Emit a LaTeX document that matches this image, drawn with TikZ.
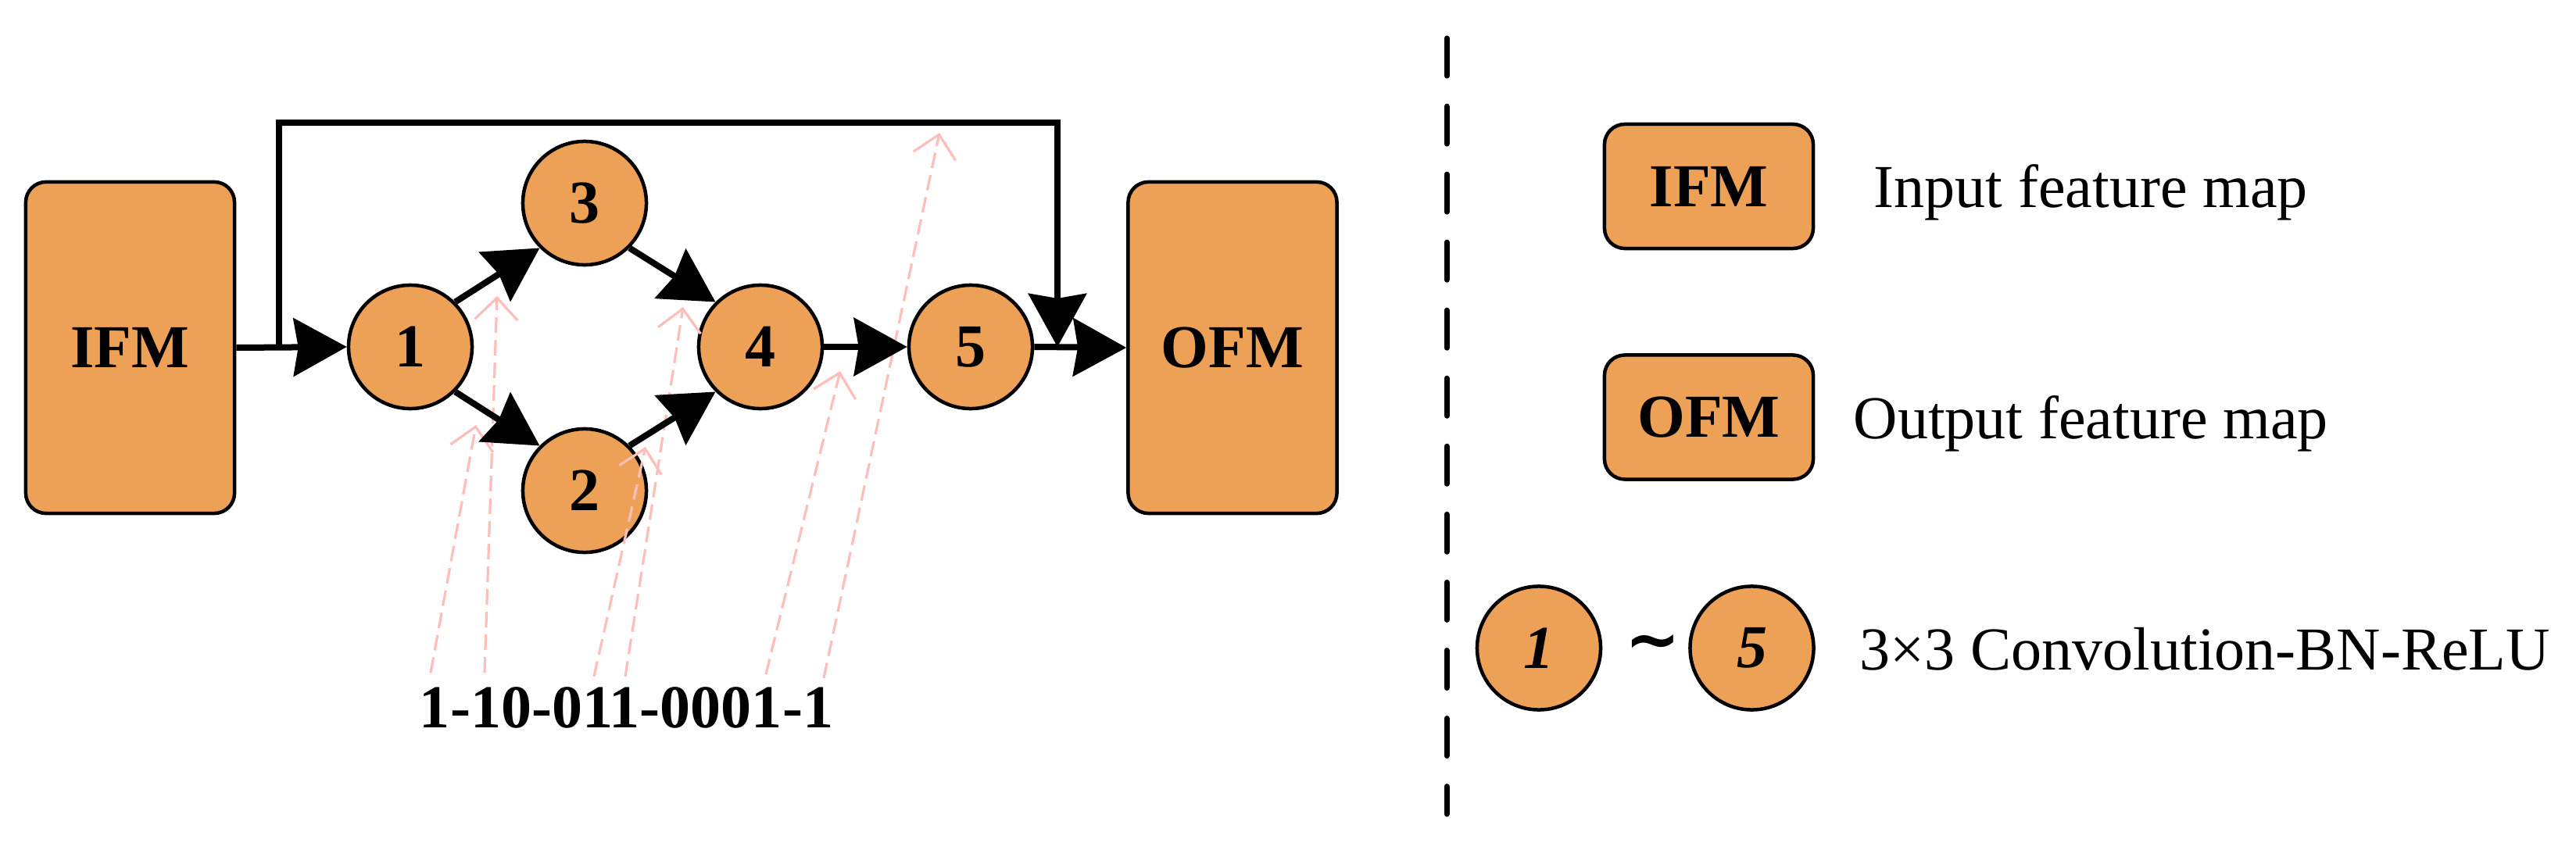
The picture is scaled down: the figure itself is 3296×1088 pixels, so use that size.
\documentclass[tikz,border=0pt]{standalone}
\usepackage{fontspec}
\setmainfont{Liberation Serif}
\newfontfamily\symfam{DejaVu Sans}
\usetikzlibrary{arrows.meta}
\definecolor{orfill}{RGB}{237,161,87}
\definecolor{pinkc}{RGB}{255,190,185}
\begin{document}
\begin{tikzpicture}[x=0.01cm,y=-0.01cm,
  txt/.style={inner sep=0pt, font=\fontsize{22.2pt}{26pt}\selectfont},
  fm/.style={draw, line width=0.045cm, fill=orfill, rounded corners=0.26cm,
    minimum width=2.67cm, minimum height=4.24cm, inner sep=0pt,
    font=\fontsize{22.2pt}{26pt}\selectfont\bfseries},
  lg/.style={fm, minimum height=1.59cm},
  op/.style={circle, draw, line width=0.045cm, fill=orfill, minimum size=1.58cm,
    inner sep=0pt, font=\fontsize{22.2pt}{26pt}\selectfont\bfseries},
  blk/.style={line width=0.08cm, -{Stealth[length=0.68cm,width=0.74cm,inset=0.06cm]}},
  pk/.style={draw=pinkc, line width=0.032cm, dash pattern=on 0.2cm off 0.09cm,
    -{Straight Barb[length=0.28cm,width=0.55cm]}},
  sep/.style={line width=0.07cm, line cap=round, dash pattern=on 0.48cm off 0.39cm}
]
\useasboundingbox (0,0) rectangle (3296,1088);

% main diagram nodes
\node[fm] (ifm) at (166.5,445) {IFM};
\node[fm] (ofm) at (1577,445) {OFM};
\node[op] (n1) at (525,444) {1};
\node[op] (n3) at (748,260) {3};
\node[op] (n2) at (748,628) {2};
\node[op] (n4) at (973,444) {4};
\node[op] (n5) at (1242,444) {5};

% feedback path coordinates
\coordinate (fbA) at (357,444);
\coordinate (fbT1) at (357,157);
\coordinate (fbT2) at (1353,157);
\coordinate (fbB) at (1353,444);

% pink annotation arrows
\coordinate (pa0) at (551,861);  \coordinate (pa1) at (609,544);
\coordinate (pb0) at (620,861);  \coordinate (pb1) at (636,379);
\coordinate (pc0) at (760,866);  \coordinate (pc1) at (826,572);
\coordinate (pd0) at (800,866);  \coordinate (pd1) at (874,393);
\coordinate (pe0) at (980,863);  \coordinate (pe1) at (1075,475);
\coordinate (pf0) at (1054,868); \coordinate (pf1) at (1202,170);
\draw[pk] (pa0) -- (pa1);
\draw[pk] (pb0) -- (pb1);
\draw[pk] (pc0) -- (pc1);
\draw[pk] (pd0) -- (pd1);
\draw[pk] (pe0) -- (pe1);
\draw[pk] (pf0) -- (pf1);

% black connectors
\draw[blk] (ifm.east) -- (n1.west);
\draw[blk] (fbA) -- (fbT1) -- (fbT2) -- (fbB);
\draw[blk] (n1.45) -- (n3.225);
\draw[blk] (n3.-45) -- (n4.135);
\draw[blk] (n1.-45) -- (n2.135);
\draw[blk] (n2.45) -- (n4.225);
\draw[blk] (n4.east) -- (n5.west);
\draw[blk] (n5.east) -- (ofm.west);

% code label
\node[txt, font=\fontsize{22.2pt}{26pt}\selectfont\bfseries, anchor=base] (code) at (801.5,931) {1-10-011-0001-1};

% separator
\coordinate (sepT) at (1851,49);
\coordinate (sepB) at (1851,1042);
\draw[sep] (sepT) -- (sepB);

% legend
\node[lg] (lgi) at (2186.5,238.5) {IFM};
\node[lg] (lgo) at (2186.5,534) {OFM};
\node[txt, anchor=base west] (ti) at (2397,265) {Input feature map};
\node[txt, anchor=base west] (to) at (2371,561) {Output feature map};
\node[op] (l1) at (1969,829.5) {\itshape 1};
\node[txt, font=\fontsize{24pt}{26pt}\selectfont\symfam\bfseries] (til) at (2115,830) {∼};
\node[op] (l5) at (2241.5,829.5) {\itshape 5};
\node[txt, anchor=base west] (tc) at (2379,857) {3×3 Convolution-BN-ReLU};
\end{tikzpicture}
\end{document}
